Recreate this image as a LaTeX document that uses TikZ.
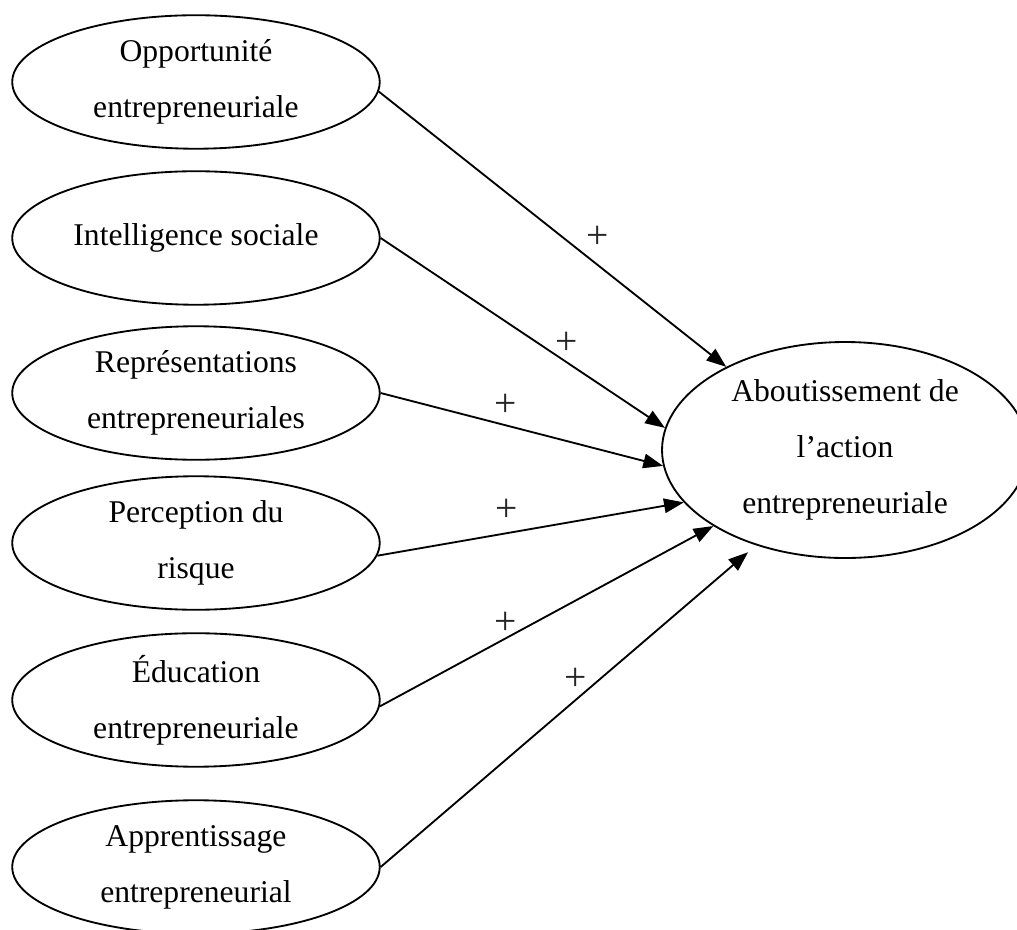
\documentclass[tikz,border=0pt]{standalone}
\usepackage{fontspec}
\setmainfont{Liberation Serif}
\usepackage{tikz}
\usetikzlibrary{arrows.meta,positioning,shapes.geometric}

\begin{document}
\begin{tikzpicture}[
  factor/.style={ellipse, draw, line width=0.7pt, minimum width=4.9cm, minimum height=1.78cm, inner sep=0pt, align=center, font=\fontsize{12}{21.2}\selectfont},
  arrow/.style={-{Triangle[length=7.5pt,width=5.5pt]}, line width=0.7pt},
  sign/.style={inner sep=0pt, font=\fontsize{15}{17}\selectfont, text=black!85}
]
\useasboundingbox (0,0) rectangle (13.56,-12.387);

% Left: determinants
\node[factor] (opp) at (2.613,-1.093) {Opportunité\\entrepreneuriale};
\node[factor] (intel) at (2.613,-3.173) {Intelligence sociale};
\node[factor] (repr) at (2.613,-5.24) {Représentations\\entrepreneuriales};
\node[factor] (risk) at (2.613,-7.24) {Perception du\\risque};
\node[factor] (educ) at (2.613,-9.333) {Éducation\\entrepreneuriale};
\node[factor] (learn) at (2.613,-11.56) {Apprentissage\\entrepreneurial};

% Right: outcome
\node[factor, minimum width=4.88cm, minimum height=2.88cm] (outcome) at (11.267,-6.0) {Aboutissement de\\l’action\\entrepreneuriale};

% Arrows
\draw[arrow] (opp.-3) -- (outcome.145);
\draw[arrow] (intel.east) -- (outcome.173);
\draw[arrow] (repr.east) -- (outcome.185);
\draw[arrow] (risk.-4) -- (outcome.198);
\draw[arrow] (educ.-2) -- (outcome.210);
\draw[arrow, shorten >=4pt] (learn.east) -- (outcome.227);

% Signs
\node[sign] (plus1) at (7.973,-3.16) {+};
\node[sign] (plus2) at (7.56,-4.573) {+};
\node[sign] (plus3) at (6.747,-5.4) {+};
\node[sign] (plus4) at (6.76,-6.8) {+};
\node[sign] (plus5) at (6.747,-8.307) {+};
\node[sign] (plus6) at (7.68,-9.053) {+};

\end{tikzpicture}
\end{document}
